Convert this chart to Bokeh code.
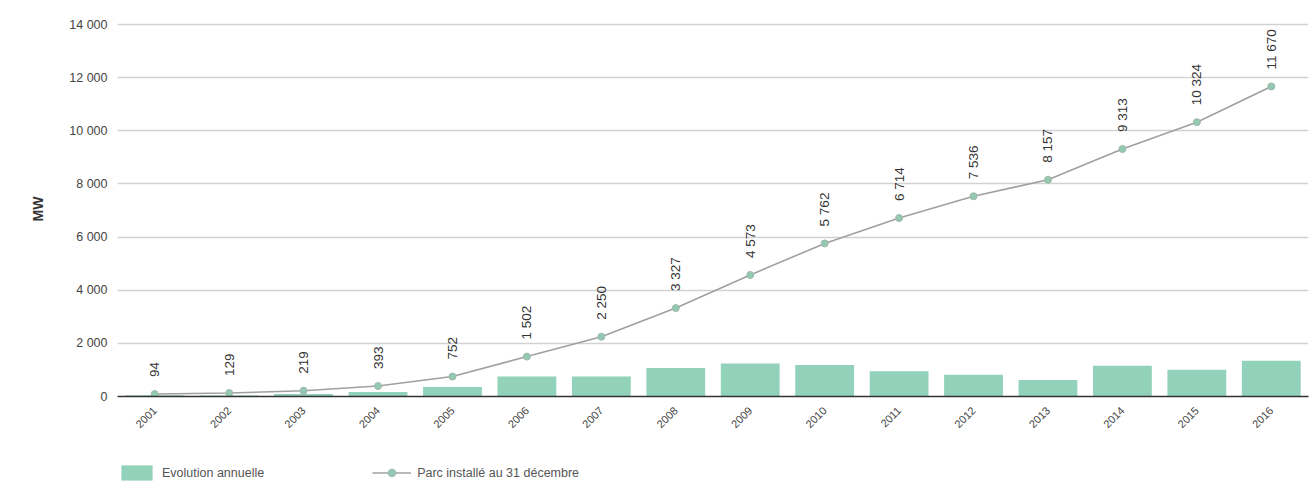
import math
from bokeh.plotting import figure
from bokeh.layouts import column
from bokeh.models import (ColumnDataSource, Range1d, CustomJSTickFormatter, Legend, LegendItem)
from bokeh.embed import file_html
from bokeh.resources import INLINE

years = ["2001", "2002", "2003", "2004", "2005", "2006", "2007", "2008",
         "2009", "2010", "2011", "2012", "2013", "2014", "2015", "2016"]
parc = [94, 129, 219, 393, 752, 1502, 2250, 3327, 4573, 5762, 6714, 7536,
        8157, 9313, 10324, 11670]
evolution = [50, 35, 90, 174, 359, 750, 748, 1077, 1246, 1189, 952, 822,
             621, 1156, 1011, 1346]
parc_labels = ["94", "129", "219", "393", "752", "1 502", "2 250", "3 327",
               "4 573", "5 762", "6 714", "7 536", "8 157", "9 313",
               "10 324", "11 670"]
y_ticks = [0, 2000, 4000, 6000, 8000, 10000, 12000, 14000]
legend_labels = ["Evolution annuelle", "Parc installé au 31 décembre"]

FONT = "Liberation Sans"
BAR_COLOR = "#92d1ba"
LINE_COLOR = "#a0a0a0"
PT_FILL = "#93c9b1"
PT_LINE = "#9fb8ad"

src = ColumnDataSource(dict(x=years, parc=parc, evo=evolution, lab=parc_labels))

p = figure(x_range=years, y_range=Range1d(0, 14113),
           width=1313, height=458,
           output_backend="svg", toolbar_location=None,
           min_border_left=117, min_border_right=5, min_border_top=21,
           min_border_bottom=62)
p.outline_line_color = None
p.background_fill_color = "white"

p.vbar(x="x", top="evo", width=0.79, source=src,
       fill_color=BAR_COLOR, line_color=None)
p.line(x="x", y="parc", source=src, line_color=LINE_COLOR, line_width=1.6)
p.scatter(x="x", y="parc", source=src, size=7, fill_color=PT_FILL,
          line_color=PT_LINE, line_width=1)

p.text(x="x", y="parc", text="lab", source=src, angle=math.pi / 2,
       text_align="left", text_baseline="middle", y_offset=-17,
       text_font_size="13.5px", text_color="#333333",
       text_font={"value": FONT})

# axes
p.xaxis.major_label_orientation = math.pi / 4
p.xaxis.major_tick_line_color = None
p.xaxis.minor_tick_line_color = None
p.xaxis.axis_line_color = "#333333"
p.xaxis.axis_line_width = 1.6
p.xaxis.major_label_text_font = FONT
p.xaxis.major_label_text_font_size = "11px"
p.xaxis.major_label_text_color = "#444444"
p.xaxis.major_label_standoff = 6

p.yaxis.ticker = y_ticks
p.yaxis.formatter = CustomJSTickFormatter(
    code='return tick.toString().replace(/\\B(?=(\\d{3})+(?!\\d))/g, " ");')
p.yaxis.axis_line_color = None
p.yaxis.major_tick_line_color = None
p.yaxis.minor_tick_line_color = None
p.yaxis.major_label_text_font = FONT
p.yaxis.major_label_text_font_size = "12.5px"
p.yaxis.major_label_text_color = "#444444"
p.yaxis.major_label_standoff = 4
p.yaxis.axis_label = "MW"
p.yaxis.axis_label_text_font = FONT
p.yaxis.axis_label_text_font_style = "bold"
p.yaxis.axis_label_text_font_size = "14px"
p.yaxis.axis_label_text_color = "#333333"
p.yaxis.axis_label_standoff = 20

p.xgrid.grid_line_color = None
p.ygrid.grid_line_color = "#d2d2d2"
p.ygrid.grid_line_width = 1.6

# legend strip below the chart (proxy renderers sit outside the visible range)
lg = figure(width=1313, height=24, x_range=Range1d(0, 1), y_range=Range1d(0, 1),
            x_axis_type=None, y_axis_type=None,
            output_backend="svg", toolbar_location=None,
            min_border_left=117, min_border_right=0, min_border_top=0,
            min_border_bottom=0)
lg.outline_line_color = None
lg.xgrid.grid_line_color = None
lg.ygrid.grid_line_color = None
proxy = ColumnDataSource(dict(x=[-10, -9], y=[-10, -9]))
r_bar = lg.vbar(x="x", top="y", width=0.5, source=proxy,
                fill_color=BAR_COLOR, line_color=None)
r_line = lg.line(x="x", y="y", source=proxy, line_color=LINE_COLOR, line_width=1.6)
r_pt = lg.scatter(x="x", y="y", source=proxy, size=7, fill_color=PT_FILL,
                  line_color=PT_LINE, line_width=1)

legend = Legend(items=[
    LegendItem(label=legend_labels[0], renderers=[r_bar]),
    LegendItem(label=legend_labels[1], renderers=[r_line, r_pt]),
], orientation="horizontal", location=(0, 0),
    glyph_width=39, glyph_height=19, label_text_font=FONT,
    label_text_font_size="12.5px", label_text_color="#555555",
    spacing=108, padding=0, margin=0, border_line_color=None,
    label_standoff=6, label_height=19)
legend.background_fill_alpha = 0
lg.add_layout(legend)

layout = column(p, lg, spacing=0)
open("out.html", "w").write(file_html(layout, INLINE))
